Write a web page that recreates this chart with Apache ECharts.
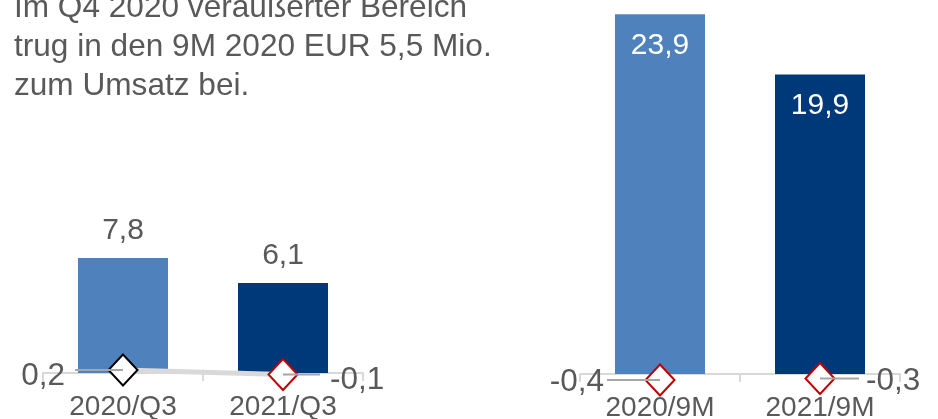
<!DOCTYPE html>
<html>
<head>
<meta charset="utf-8">
<script src="https://cdn.jsdelivr.net/npm/echarts@6/dist/echarts.min.js"></script>
<style>
  html, body { margin: 0; padding: 0; background: #ffffff; }
  #chart { width: 938px; height: 419px; }
</style>
</head>
<body>
<div id="chart"></div>
<script>
// Quarter comparison (left panel)
const quarterCategories = ['2020/Q3', '2021/Q3'];
const quarterRevenue = [7.8, 6.1];
const quarterResult = [0.2, -0.1];

// Nine-month comparison (right panel)
const nineMonthCategories = ['2020/9M', '2021/9M'];
const nineMonthRevenue = [23.9, 19.9];
const nineMonthResult = [-0.4, -0.3];

const noteLines = [
  'Im Q4 2020 veräußerter Bereich',
  'trug in den 9M 2020 EUR 5,5 Mio.',
  'zum Umsatz bei.'
];

const FONT = 'Arial, "Liberation Sans", sans-serif';
const TEXT_GREY = '#595959';
const LIGHT_BLUE = '#4F81BD';
const DARK_BLUE = '#00397A';
const AXIS_GREY = '#d9d9d9';
const LEADER_GREY = '#a6a6a6';

const fmt = v => v.toFixed(1).replace('.', ',');

// Label of a diamond marker: value text plus a short leader line
// that runs into the marker centre.
function markerLabel(side, lead, gap, lineH) {
  const rich = {
    v: { fontSize: 31.5, color: TEXT_GREY, fontFamily: FONT, lineHeight: lineH, verticalAlign: 'bottom' },
    s: { width: gap, height: 2, lineHeight: 2 },
    l: { width: lead, height: 2, lineHeight: 2, backgroundColor: LEADER_GREY }
  };
  return {
    show: true,
    position: ['50%', '50%'],
    align: side === 'left' ? 'right' : 'left',
    verticalAlign: 'middle',
    formatter: p => side === 'left'
      ? '{v|' + fmt(p.value) + '}{s|}{l|}'
      : '{l|}{s|}{v|' + fmt(p.value) + '}',
    rich: rich
  };
}

function diamond(value, border, label) {
  return {
    value: value,
    itemStyle: { color: '#ffffff', borderColor: border, borderWidth: 2 },
    label: label
  };
}

function barItems(values) {
  return values.map((v, i) => ({
    value: v,
    itemStyle: { color: i === 0 ? LIGHT_BLUE : DARK_BLUE }
  }));
}

// The category axis sits on the zero line, which is the bottom edge of each plot.
function categoryAxis(gridIndex, data) {
  return {
    type: 'category',
    gridIndex: gridIndex,
    data: data,
    axisLine: { show: true, onZero: false, lineStyle: { color: AXIS_GREY, width: 2 } },
    axisTick: { show: true, length: 8, lineStyle: { color: AXIS_GREY, width: 2 } },
    axisLabel: { show: true, fontSize: 28, color: TEXT_GREY, fontFamily: FONT, margin: 20 },
    splitLine: { show: false }
  };
}

function valueAxis(gridIndex, min, max) {
  return {
    type: 'value',
    gridIndex: gridIndex,
    min: min,
    max: max,
    show: false,
    splitLine: { show: false }
  };
}

// Plot areas keep their set size; the axis labels may run past the page edge.
const looseBounds = { left: -200, right: -200, top: -200, bottom: -200 };

const chart = echarts.init(document.getElementById('chart'), null, { renderer: 'canvas' });

chart.setOption({
  animation: false,
  backgroundColor: '#ffffff',
  title: {
    text: noteLines.join('\n'),
    left: 9,
    top: -16,
    textStyle: {
      fontSize: 31.6,
      fontWeight: 'normal',
      lineHeight: 39,
      color: TEXT_GREY,
      fontFamily: FONT
    }
  },
  grid: [
    { left: 43, width: 320, top: 48.5, bottom: 46, outerBounds: looseBounds },
    { left: 580, width: 320, top: 12.8, bottom: 45, outerBounds: looseBounds }
  ],
  xAxis: [
    categoryAxis(0, quarterCategories),
    categoryAxis(1, nineMonthCategories)
  ],
  yAxis: [
    valueAxis(0, 0, 22),
    valueAxis(1, 0, 24)
  ],
  series: [
    {
      type: 'bar',
      xAxisIndex: 0,
      yAxisIndex: 0,
      barWidth: 90,
      data: barItems(quarterRevenue),
      label: {
        show: true,
        position: 'top',
        distance: 12,
        fontSize: 30,
        color: TEXT_GREY,
        fontFamily: FONT,
        formatter: p => fmt(p.value)
      }
    },
    {
      type: 'line',
      xAxisIndex: 0,
      yAxisIndex: 0,
      clip: false,
      symbol: 'diamond',
      symbolSize: [29, 31],
      z: 5,
      lineStyle: { color: AXIS_GREY, width: 5 },
      data: [
        diamond(quarterResult[0], '#000000', markerLabel('left', 48, 10, 44.5)),
        diamond(quarterResult[1], '#C00000', markerLabel('right', 37, 10, 44.5))
      ]
    },
    {
      type: 'bar',
      xAxisIndex: 1,
      yAxisIndex: 1,
      barWidth: 90,
      data: barItems(nineMonthRevenue),
      label: {
        show: true,
        position: 'insideTop',
        distance: 16,
        fontSize: 30,
        color: '#ffffff',
        fontFamily: FONT,
        formatter: p => fmt(p.value)
      }
    },
    {
      type: 'line',
      xAxisIndex: 1,
      yAxisIndex: 1,
      clip: false,
      symbol: 'diamond',
      symbolSize: [29, 31],
      z: 5,
      lineStyle: { width: 0, opacity: 0 },
      data: [
        diamond(nineMonthResult[0], '#C00000', markerLabel('left', 53, 3, 37.5)),
        diamond(nineMonthResult[1], '#C00000', markerLabel('right', 39, 7, 37.5))
      ]
    }
  ]
});
</script>
</body>
</html>
